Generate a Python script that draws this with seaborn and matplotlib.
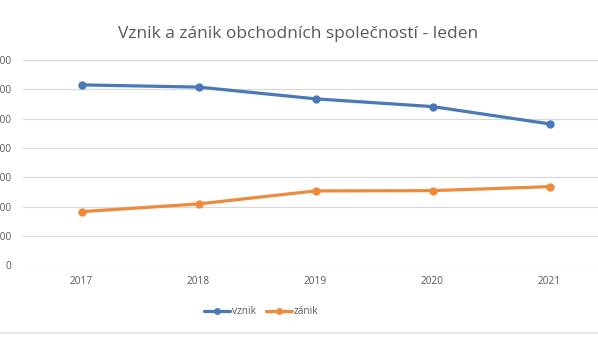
import matplotlib
matplotlib.use("Agg")
import matplotlib.pyplot as plt
from matplotlib.lines import Line2D
import seaborn as sns
import pandas as pd

years = ["2017", "2018", "2019", "2020", "2021"]
vznik = [3076, 3038, 2838, 2706, 2411]
zanik = [915, 1046, 1268, 1273, 1341]
series_names = ["vznik", "zánik"]
colors = ["#4A78B8", "#EE8A3C"]
y_ticks = [0, 500, 1000, 1500, 2000, 2500, 3000, 3500]
title = "Vznik a zánik obchodních společností - leden"

df = pd.DataFrame({
    "rok": years * 2,
    "počet": vznik + zanik,
    "řada": [series_names[0]] * len(years) + [series_names[1]] * len(years),
})

sns.set_theme(style="white")
plt.rcParams["font.family"] = ["Open Sans", "DejaVu Sans"]
text_color = "#595959"

fig = plt.figure(figsize=(5.98, 3.42), dpi=100)
ax = fig.add_axes([23 / 598, 1 - 265.3 / 342, 585 / 598, (265.3 - 60) / 342])

sns.lineplot(data=df, x="rok", y="počet", hue="řada", palette=colors,
             marker="o", markersize=6, markeredgewidth=0, linewidth=2.3,
             sort=False, ax=ax, legend=False)

ax.set_xlim(-0.5, 4.5)
ax.set_ylim(0, 3500)
ax.set_yticks(y_ticks)
ax.set_yticklabels([str(t) for t in y_ticks])
ax.grid(axis="y", color="#D9D9D9", linewidth=0.9)
ax.grid(axis="x", visible=False)
ax.set_axisbelow(True)
for s in ax.spines.values():
    s.set_visible(False)
ax.tick_params(axis="y", length=0, pad=8.5, labelsize=7.3, labelcolor=text_color)
ax.tick_params(axis="x", length=0, pad=8, labelsize=7.3, labelcolor=text_color)
ax.set_xlabel("")
ax.set_ylabel("")

fig.text(298 / 598, 1 - 34 / 342, title, ha="center", va="center",
         fontsize=12.5, color=text_color)

handles = [Line2D([0], [0], color=c, linewidth=2.3, marker="o", markersize=5,
                  markeredgewidth=0) for c in colors]
fig.legend(handles, series_names, loc="center", bbox_to_anchor=(261 / 598, 1 - 312 / 342),
           ncol=2, frameon=False, fontsize=7.3, labelcolor=text_color,
           handlelength=2.6, handletextpad=0.15, columnspacing=1.0)

fig.add_artist(Line2D([0, 1], [1 - 333 / 342] * 2, color="#E3E3E3", linewidth=1.2,
                      transform=fig.transFigure))

fig.savefig("out.png", dpi=100, facecolor="white")
